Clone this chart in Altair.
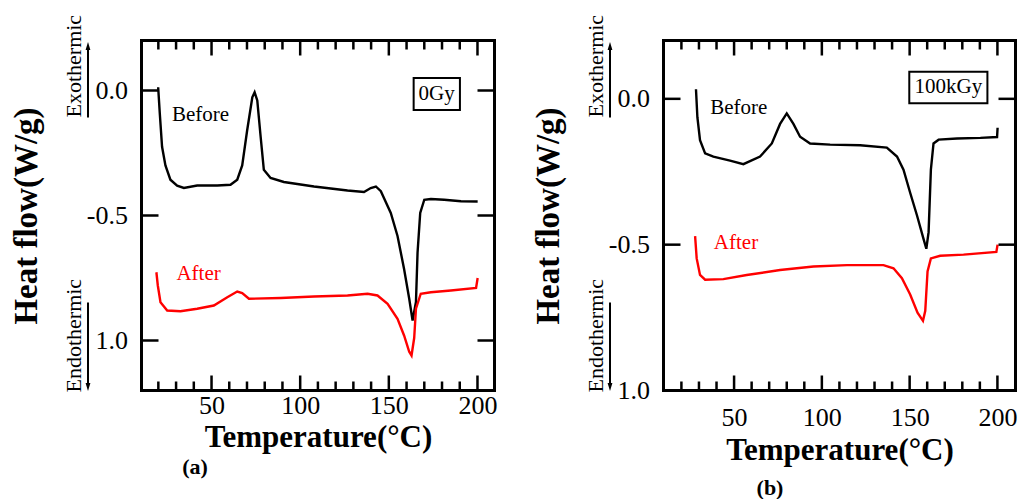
import altair as alt
import pandas as pd

# ---------------- data ----------------
# Panel (a) 0Gy
a_before_T = [19.9, 20.8, 22.1, 24.0, 26.8, 30.6, 34.4, 41.9, 53.2, 60.7, 64.5, 67.3, 70.1, 73.0, 74.3,
              75.8, 77.7, 79.5, 83.3, 90.8, 107.8, 126.7, 136.0, 139.8, 142.7, 145.5, 151.1, 154.9,
              158.6, 161.5, 163.4, 165.3, 166.2, 167.7, 170.0, 173.7, 181.2, 190.7, 200.1]
a_before_v = [0.013, -0.09, -0.225, -0.30, -0.357, -0.381, -0.39, -0.38, -0.38, -0.377, -0.357, -0.30,
              -0.159, -0.027, -0.007, -0.04, -0.185, -0.317, -0.35, -0.366, -0.384, -0.40, -0.406,
              -0.39, -0.384, -0.403, -0.49, -0.582, -0.714, -0.833, -0.92, -0.846, -0.648, -0.49,
              -0.437, -0.434, -0.437, -0.443, -0.444]
a_after_T = [18.9, 19.7, 21.2, 25.0, 32.5, 41.9, 51.3, 58.9, 64.5, 67.3, 71.1, 89.0, 107.8, 126.7,
             138.0, 143.6, 149.3, 154.9, 158.6, 161.5, 162.8, 164.3, 165.3, 168.0, 173.7, 185.0,
             199.2, 200.1]
a_after_v = [-0.727, -0.78, -0.847, -0.88, -0.883, -0.873, -0.86, -0.827, -0.804, -0.81, -0.833, -0.83,
             -0.824, -0.82, -0.813, -0.82, -0.853, -0.913, -0.98, -1.045, -1.06, -0.99, -0.873,
             -0.813, -0.807, -0.80, -0.79, -0.75]

# Panel (b) 100kGy
b_before_T = [28.3, 29.1, 30.6, 33.5, 38.2, 47.7, 55.3, 64.8, 71.5, 76.2, 80.0, 83.8, 87.6, 93.3,
              104.7, 121.8, 137.0, 142.8, 146.5, 150.3, 154.2, 157.9, 159.5, 160.8, 162.1, 163.6,
              166.5, 177.0, 190.3, 199.8, 200.1]
b_before_v = [0.033, -0.063, -0.142, -0.187, -0.198, -0.212, -0.224, -0.198, -0.153, -0.086, -0.05,
              -0.086, -0.13, -0.153, -0.157, -0.159, -0.167, -0.198, -0.243, -0.322, -0.40, -0.48,
              -0.514, -0.457, -0.243, -0.153, -0.14, -0.136, -0.134, -0.131, -0.099]
b_after_T = [27.8, 28.7, 30.6, 33.5, 43.9, 57.2, 76.2, 95.2, 114.3, 135.1, 140.8, 145.6, 150.3,
             154.5, 157.6, 158.9, 160.2, 162.1, 167.4, 180.7, 199.4, 200.1]
b_after_v = [-0.471, -0.547, -0.604, -0.62, -0.618, -0.604, -0.587, -0.575, -0.57, -0.57, -0.581,
             -0.615, -0.671, -0.733, -0.761, -0.727, -0.592, -0.547, -0.538, -0.534, -0.525, -0.50]

x_minor_ticks = [20, 30, 40, 60, 70, 80, 90, 110, 120, 130, 140, 160, 170, 180, 190]
x_major_ticks = [50, 100, 150, 200]
y_ticks = [0.0, -0.5, -1.0]

series_names = ["Before", "After"]
dose_labels = ["0Gy", "100kGy"]
panel_labels = ["(a)", "(b)"]

SERIF = "Liberation Serif"


def panel(before_T, before_v, after_T, after_v, xdom, ydom, W, H,
          dose, dose_T, dose_v, box_T, box_v,
          before_pos, after_pos, sub, sub_xy, xlab_pad, xtitle_y):
    xs = alt.Scale(domain=xdom, nice=False, zero=False)
    ys = alt.Scale(domain=ydom, nice=False, zero=False)
    xaxis = alt.Axis(orient="bottom", values=x_major_ticks, ticks=False, domain=False, grid=False,
                     labelFont=SERIF, labelFontSize=26, labelColor="black",
                     labelPadding=xlab_pad, labelBaseline="alphabetic", labelFlush=False,
                     title="Temperature(°C)", titleFont=SERIF, titleFontSize=31,
                     titleFontWeight="bold", titleColor="black",
                     titleY=xtitle_y, titleBaseline="alphabetic")
    yaxis = alt.Axis(orient="left", values=y_ticks, ticks=False, domain=False, grid=False,
                     labelExpr="datum.value == 0 ? '0.0' : (datum.value == -0.5 ? '-0.5' : '1.0')",
                     labelFont=SERIF, labelFontSize=26, labelColor="black",
                     labelPadding=14, labelFlush=False,
                     title="Heat flow(W/g)", titleFont=SERIF, titleFontSize=33,
                     titleFontWeight="bold", titleColor="black", titleAngle=270,
                     titleX=-115, titleY=H / 2, titleBaseline="middle", titleAlign="center")
    X = alt.X("T:Q", scale=xs, axis=xaxis)
    Y = alt.Y("v:Q", scale=ys, axis=yaxis)

    before = pd.DataFrame({"T": before_T, "v": before_v})
    after = pd.DataFrame({"T": after_T, "v": after_v})
    layers = [
        alt.Chart(before).mark_line(color="black", strokeWidth=2.4).encode(x=X, y=Y),
        alt.Chart(after).mark_line(color="#ff0000", strokeWidth=2.4).encode(x=X, y=Y),
    ]

    # inward ticks (top & bottom, left & right)
    for vals, ln in ((x_minor_ticks, 9), (x_major_ticks, 15)):
        d = pd.DataFrame({"T": vals})
        layers.append(alt.Chart(d).mark_rule(color="black", strokeWidth=2.5).encode(
            x=X, y=alt.value(H), y2=alt.value(H - ln)))
        layers.append(alt.Chart(d).mark_rule(color="black", strokeWidth=2.5).encode(
            x=X, y=alt.value(0), y2=alt.value(ln)))
    dy = pd.DataFrame({"v": y_ticks})
    layers.append(alt.Chart(dy).mark_rule(color="black", strokeWidth=2.5).encode(
        y=Y, x=alt.value(0), x2=alt.value(17)))
    layers.append(alt.Chart(dy).mark_rule(color="black", strokeWidth=2.5).encode(
        y=Y, x=alt.value(W - 17), x2=alt.value(W)))

    # dose box
    box = pd.DataFrame({"T": [box_T[0]], "T2": [box_T[1]], "v": [box_v[0]], "v2": [box_v[1]]})
    layers.append(alt.Chart(box).mark_rect(fill="white", stroke="black", strokeWidth=2).encode(
        x=X, x2="T2:Q", y=Y, y2="v2:Q"))
    labels = pd.DataFrame({
        "T": [dose_T, before_pos[0], after_pos[0]],
        "v": [dose_v, before_pos[1], after_pos[1]],
        "label": [dose, series_names[0], series_names[1]],
        "c": ["black", "black", "#ff0000"],
    })
    layers.append(alt.Chart(labels).mark_text(font=SERIF, fontSize=21, align="center",
                                              baseline="middle").encode(
        x=X, y=Y, text="label:N", color=alt.Color("c:N", scale=None)))

    # exothermic / endothermic annotations with arrows
    exo = pd.DataFrame({"label": ["Exothermic"]})
    endo = pd.DataFrame({"label": ["Endothermic"]})
    layers.append(alt.Chart(exo).mark_text(font=SERIF, fontSize=22, angle=270, align="left",
                                           baseline="middle", color="black").encode(
        x=alt.value(-68), y=alt.value(77), text="label:N"))
    layers.append(alt.Chart(endo).mark_text(font=SERIF, fontSize=22, angle=270, align="left",
                                            baseline="middle", color="black").encode(
        x=alt.value(-68), y=alt.value(352), text="label:N"))
    layers.append(alt.Chart(exo).mark_rule(color="black", strokeWidth=2).encode(
        x=alt.value(-53.5), y=alt.value(77), y2=alt.value(8)))
    layers.append(alt.Chart(endo).mark_rule(color="black", strokeWidth=2).encode(
        x=alt.value(-53.5), y=alt.value(262), y2=alt.value(344)))
    layers.append(alt.Chart(exo).mark_point(shape="M0,-1L-0.6,1L0.6,1Z", filled=True, size=64,
                                            color="black", opacity=1).encode(
        x=alt.value(-53.5), y=alt.value(5.5)))
    layers.append(alt.Chart(endo).mark_point(shape="M0,1L-0.6,-1L0.6,-1Z", filled=True, size=64,
                                             color="black", opacity=1).encode(
        x=alt.value(-53.5), y=alt.value(346.5)))

    subdf = pd.DataFrame({"label": [sub]})
    layers.append(alt.Chart(subdf).mark_text(font=SERIF, fontSize=22, fontWeight="bold",
                                             align="center", baseline="middle",
                                             color="black").encode(
        x=alt.value(sub_xy[0]), y=alt.value(sub_xy[1]), text="label:N"))

    return alt.layer(*layers).properties(width=W, height=H)


left = panel(a_before_T, a_before_v, a_after_T, a_after_v,
             xdom=[10.5, 209.6], ydom=[-1.2, 0.2], W=353, H=350,
             dose=dose_labels[0], dose_T=177.0, dose_v=-0.014,
             box_T=(164.0, 190.1), box_v=(0.05, -0.078),
             before_pos=(43.8, -0.097), after_pos=(42.7, -0.734),
             sub=panel_labels[0], sub_xy=(53.5, 426), xlab_pad=23, xtitle_y=55.5)

right = panel(b_before_T, b_before_v, b_after_T, b_after_v,
              xdom=[9.8, 210.3], ydom=[-1.0, 0.2], W=352, H=350,
              dose=dose_labels[1], dose_T=172.1, dose_v=0.039,
              box_T=(149.8, 194.3), box_v=(0.093, -0.015),
              before_pos=(52.7, -0.032), after_pos=(51.1, -0.494),
              sub=panel_labels[1], sub_xy=(106.5, 447.5), xlab_pad=35, xtitle_y=69)

chart = alt.hconcat(left, right, spacing=169, bounds="flush").properties(
    autosize=alt.AutoSizeParams(type="none"),
    padding={"left": 141.5, "top": 40.5, "right": 877.5, "bottom": 458.5},
    background="white",
).configure_view(
    stroke="black", strokeWidth=3
).configure_axis(
    labelFont=SERIF, titleFont=SERIF, labelColor="black", titleColor="black"
)

chart.save("out.html", embed_options={"renderer": "svg", "actions": False})
